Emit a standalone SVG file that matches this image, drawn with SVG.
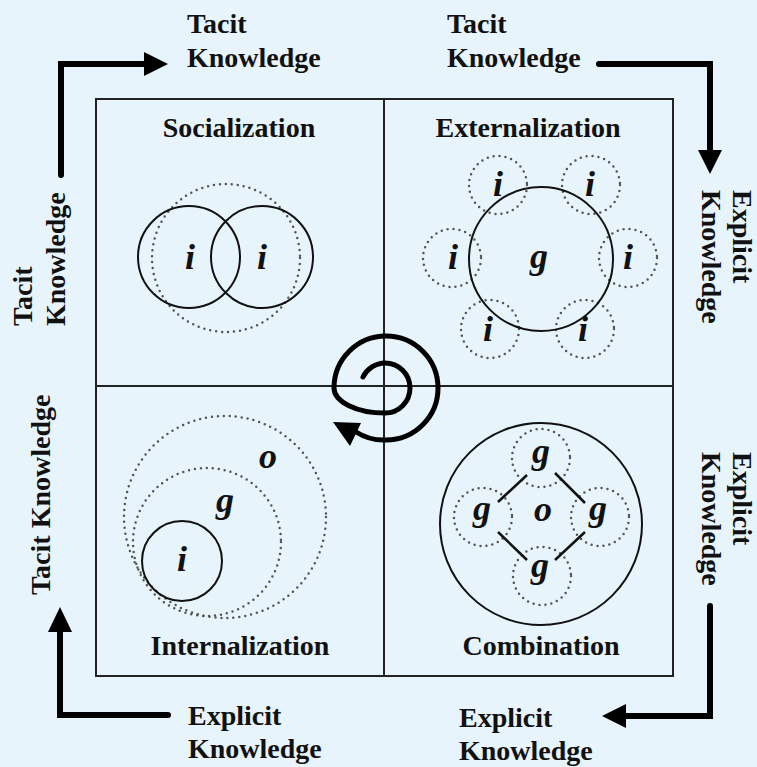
<svg xmlns="http://www.w3.org/2000/svg" width="757" height="767" viewBox="0 0 757 767">
<style>
.lbl{font-family:"Liberation Serif","Times New Roman",serif;font-weight:bold;font-size:28px;fill:#111}
.ttl{font-family:"Liberation Serif","Times New Roman",serif;font-weight:bold;font-size:28px;fill:#111;text-anchor:middle}
.var{font-family:"Liberation Serif","Times New Roman",serif;font-weight:bold;font-style:italic;font-size:36px;fill:#111;text-anchor:middle}
.solid{fill:none;stroke:#111;stroke-width:2}
.dot{fill:none;stroke:#555;stroke-width:2.5;stroke-dasharray:0 6;stroke-linecap:round}
.frame{fill:none;stroke:#222;stroke-width:2}
.flow{fill:none;stroke:#000;stroke-width:6;stroke-linecap:round;stroke-linejoin:miter}
.head{fill:#000}
</style>
<rect width="757" height="767" fill="#E8F4FC"/>

<g id="frame">
<rect class="frame" x="96" y="99" width="577" height="577"/>
<line class="frame" x1="384" y1="99" x2="384" y2="676"/>
<line class="frame" x1="96" y1="386" x2="673" y2="386"/>
</g>

<g id="socialization">
<text class="ttl" x="239" y="137">Socialization</text>
<circle class="dot" cx="226" cy="258" r="74"/>
<circle class="solid" cx="189" cy="257" r="51"/>
<circle class="solid" cx="262" cy="257" r="51"/>
<text class="var" x="190" y="269">i</text>
<text class="var" x="262" y="269">i</text>
</g>

<g id="externalization">
<text class="ttl" x="528" y="137">Externalization</text>
<circle class="dot" cx="498" cy="185" r="29"/>
<circle class="dot" cx="591" cy="185" r="29"/>
<circle class="dot" cx="452" cy="258" r="29"/>
<circle class="dot" cx="628" cy="258" r="29"/>
<circle class="dot" cx="490" cy="329" r="29"/>
<circle class="dot" cx="585" cy="329" r="29"/>
<circle class="solid" cx="541" cy="259" r="72"/>
<text class="var" x="539" y="268">g</text>
<text class="var" x="498" y="196">i</text>
<text class="var" x="590" y="196">i</text>
<text class="var" x="453" y="269">i</text>
<text class="var" x="628" y="269">i</text>
<text class="var" x="488" y="341">i</text>
<text class="var" x="583" y="341">i</text>
</g>

<g id="internalization">
<circle class="dot" cx="225" cy="517" r="101"/>
<circle class="dot" cx="207" cy="542" r="74"/>
<circle class="solid" cx="182" cy="561" r="40"/>
<text class="var" x="268" y="468">o</text>
<text class="var" x="225" y="512">g</text>
<text class="var" x="182" y="571">i</text>
<text class="ttl" x="240" y="655">Internalization</text>
</g>

<g id="combination">
<circle class="solid" cx="541" cy="524" r="101"/>
<circle class="dot" cx="541" cy="458" r="29"/>
<circle class="dot" cx="483" cy="517" r="29"/>
<circle class="dot" cx="600" cy="517" r="29"/>
<circle class="dot" cx="542" cy="576" r="29"/>
<g stroke="#111" stroke-width="2.5">
<line x1="498" y1="502" x2="527" y2="475"/>
<line x1="555" y1="473" x2="585" y2="503"/>
<line x1="498" y1="532" x2="527" y2="560"/>
<line x1="555" y1="560" x2="585" y2="532"/>
</g>
<text class="var" x="541" y="463">g</text>
<text class="var" x="482" y="520">g</text>
<text class="var" x="598" y="520">g</text>
<text class="var" x="540" y="577">g</text>
<text class="var" x="543" y="521">o</text>
<text class="ttl" x="541" y="655">Combination</text>
</g>

<g id="spiral">
<path fill="none" stroke="#000" stroke-width="5" stroke-linecap="round" d="M363 377 A25 25 0 0 1 385 363 A25 25 0 0 1 410 388 A25 25 0 0 1 385 413 A51 25 0 0 1 334 388 A52 52 0 0 1 386 336 A52 52 0 0 1 438 388 A52 52 0 0 1 386 440 A52 52 0 0 1 356 432"/>
<polygon class="head" points="333,422 361,423 350,446"/>
</g>

<g id="labels">
<text class="lbl" x="187" y="33">Tacit</text>
<text class="lbl" x="187" y="67">Knowledge</text>
<text class="lbl" x="447" y="33">Tacit</text>
<text class="lbl" x="447" y="67">Knowledge</text>
<text class="lbl" transform="translate(733,190) rotate(90)">Explicit</text>
<text class="lbl" transform="translate(702,190) rotate(90)">Knowledge</text>
<text class="lbl" transform="translate(733,452) rotate(90)">Explicit</text>
<text class="lbl" transform="translate(702,452) rotate(90)">Knowledge</text>
<text class="lbl" x="459" y="727">Explicit</text>
<text class="lbl" x="459" y="760">Knowledge</text>
<text class="lbl" x="188" y="725">Explicit</text>
<text class="lbl" x="188" y="758">Knowledge</text>
<text class="lbl" transform="translate(50,595) rotate(-90)">Tacit Knowledge</text>
<text class="lbl" transform="translate(32,326) rotate(-90)">Tacit</text>
<text class="lbl" transform="translate(65,326) rotate(-90)">Knowledge</text>
</g>

<g id="connectors">
<path class="flow" d="M61 175 V64 H146"/>
<polygon class="head" points="144,52 168,64 144,76"/>
<path class="flow" d="M599 64 H710 V152"/>
<polygon class="head" points="698,150 722,150 710,174"/>
<path class="flow" d="M710 606 V716 H624"/>
<polygon class="head" points="626,704 626,728 602,716"/>
<path class="flow" d="M168 715 H60 V630"/>
<polygon class="head" points="48,632 72,632 60,607"/>
</g>
</svg>
